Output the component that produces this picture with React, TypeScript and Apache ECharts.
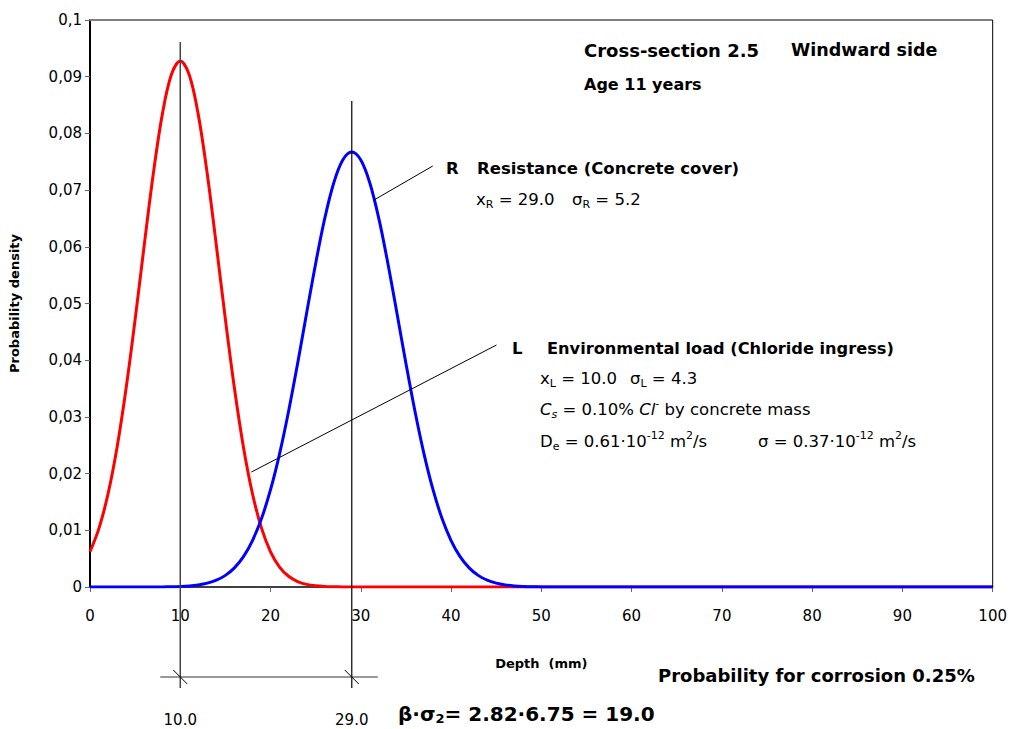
import React, { useEffect, useRef } from "react";
import * as echarts from "echarts";

// Depth (mm)
const depth = [
  0, 1, 2, 3, 4, 5, 6, 7, 8, 9, 10, 11, 12, 13, 14, 15, 16, 17, 18, 19, 20,
  21, 22, 23, 24, 25, 26, 27, 28, 29, 30, 31, 32, 33, 34, 35, 36, 37, 38, 39,
  40, 41, 42, 43, 44, 45, 46, 47, 48, 49, 50, 51, 52, 60, 70, 80, 90, 100,
];
// L – Environmental load (chloride ingress) density
const loadL = [
  0.00621, 0.01038, 0.01644, 0.02466, 0.03505, 0.04719, 0.06019, 0.07274,
  0.08327, 0.0903, 0.09278, 0.0903, 0.08327, 0.07274, 0.06019, 0.04719,
  0.03505, 0.02466, 0.01644, 0.01038, 0.00621, 0.00352, 0.00189, 0.00096,
  0.00046, 0.00021, 0.00009, 0.00004, 0.00001, 0, 0, 0, 0, 0, 0, 0, 0, 0, 0,
  0, 0, 0, 0, 0, 0, 0, 0, 0, 0, 0, 0, 0, 0, 0, 0, 0, 0, 0,
];
// R – Resistance (concrete cover) density
const resistR = [
  0, 0, 0, 0, 0, 0, 0, 0.00001, 0.00002, 0.00005, 0.0001, 0.00019, 0.00037,
  0.00068, 0.0012, 0.00205, 0.00337, 0.00535, 0.00819, 0.01207, 0.01716,
  0.02349, 0.031, 0.03943, 0.04832, 0.05707, 0.06496, 0.07125, 0.07531,
  0.07672, 0.07531, 0.07125, 0.06496, 0.05707, 0.04832, 0.03943, 0.031,
  0.02349, 0.01716, 0.01207, 0.00819, 0.00535, 0.00337, 0.00205, 0.0012,
  0.00068, 0.00037, 0.00019, 0.0001, 0.00005, 0.00002, 0.00001, 0, 0, 0, 0, 0,
  0,
];
const yTickLabels = ["0", "0,01", "0,02", "0,03", "0,04", "0,05", "0,06", "0,07", "0,08", "0,09", "0,1"];
const xTickLabels = ["0", "10", "20", "30", "40", "50", "60", "70", "80", "90", "100"];
const meanL = 10.0;
const meanR = 29.0;

const F = "'DejaVu Sans', Verdana, sans-serif";

export default function App() {
  const ref = useRef<HTMLDivElement>(null);
  useEffect(() => {
    if (!ref.current) return;
    const chart = echarts.init(ref.current, undefined, { renderer: "svg" });
    const option: any = {
      animation: false,
      backgroundColor: "#fff",
      grid: { left: 88, right: 16, top: 20, bottom: 142 },
      xAxis: {
        type: "value",
        min: 0,
        max: 100,
        interval: 10,
        name: "Depth  (mm)",
        nameLocation: "middle",
        nameGap: 70,
        nameTextStyle: { fontFamily: F, fontSize: 13, fontWeight: "bold", color: "#000" },
        axisLine: { show: true, lineStyle: { color: "#000", width: 1.5 } },
        axisTick: { show: true, inside: false, length: 5, lineStyle: { color: "#666" } },
        axisLabel: {
          margin: 21,
          fontFamily: F,
          fontSize: 15,
          color: "#000",
          formatter: (_v: number, i: number) => xTickLabels[i],
        },
        splitLine: { show: false },
      },
      yAxis: {
        type: "value",
        min: 0,
        max: 0.1,
        interval: 0.01,
        name: "Probability density",
        nameLocation: "middle",
        nameGap: 69,
        nameTextStyle: { fontFamily: F, fontSize: 13, fontWeight: "bold", color: "#000" },
        axisLine: { show: true, lineStyle: { color: "#000", width: 2 } },
        axisTick: { show: true, inside: false, length: 5, lineStyle: { color: "#666" } },
        axisLabel: {
          margin: 8,
          fontFamily: F,
          fontSize: 15,
          color: "#000",
          formatter: (_v: number, i: number) => yTickLabels[i],
        },
        splitLine: { show: false },
      },
      series: [
        {
          type: "line",
          name: "L",
          data: depth.map((d, i) => [d, loadL[i]]),
          symbol: "none",
          smooth: 0.35,
          lineStyle: { color: "#ff0000", width: 3 },
          z: 3,
        },
        {
          type: "line",
          name: "R",
          data: depth.map((d, i) => [d, resistR[i]]),
          symbol: "none",
          smooth: 0.35,
          lineStyle: { color: "#0000ff", width: 3 },
          z: 4,
        },
      ],
    };
    chart.setOption(option);

    const p = (x: number, y: number) => chart.convertToPixel({ gridIndex: 0 }, [x, y]) as number[];
    const [x0, y0] = p(0, 0);
    const [x100, yTop] = p(100, 0.1);
    const xl = p(meanL, 0)[0];
    const xr = p(meanR, 0)[0];
    const lTop = p(meanL, 0.0961)[1];
    const rTop = p(meanR, 0.0857)[1];
    const bottom = y0 + 101;
    const dimY = y0 + 90;
    const rs = p(31.46, 0.06825);
    const re = p(37.97, 0.07425);
    const ls = p(17.88, 0.02028);
    const le = p(45.03, 0.04268);

    const line = (a: number[], b: number[], stroke = "#000", lineWidth = 1) => ({
      type: "line",
      shape: { x1: a[0], y1: a[1], x2: b[0], y2: b[1] },
      style: { stroke, lineWidth },
      z: 10,
    });
    const R = 16.5;
    const rich = {
      n: { fontFamily: F, fontSize: R, lineHeight: 22, fill: "#000" },
      i: { fontFamily: F, fontSize: R, lineHeight: 22, fill: "#000", fontStyle: "italic" },
      sub: { fontFamily: F, fontSize: 11, lineHeight: 12, fill: "#000", verticalAlign: "bottom" },
      isub: { fontFamily: F, fontSize: 11, lineHeight: 12, fill: "#000", verticalAlign: "bottom", fontStyle: "italic" },
      sup: { fontFamily: F, fontSize: 11, lineHeight: 12, fill: "#000", verticalAlign: "top" },
      big: { fontFamily: F, fontSize: 20, lineHeight: 22, fill: "#000", fontWeight: "bold" },
      bsub: { fontFamily: F, fontSize: 13, lineHeight: 13, fill: "#000", fontWeight: "bold", verticalAlign: "bottom" },
    };
    const txt = (x: number, y: number, text: string) => ({
      type: "text",
      x,
      y,
      z: 11,
      style: { text, rich, align: "left", verticalAlign: "middle" },
    });
    const plain = (x: number, y: number, text: string, size: number, bold: boolean, align = "left") => ({
      type: "text",
      x,
      y,
      z: 11,
      style: {
        text,
        fontFamily: F,
        fontSize: size,
        fontWeight: bold ? "bold" : "normal",
        fill: "#000",
        align,
        verticalAlign: "middle",
      },
    });

    const graphic = [
      line([x0, yTop], [x100, yTop], "#808080", 2),
      line([x100, yTop], [x100, y0], "#000", 1),
      line([xl, lTop], [xl, bottom], "#444", 1.5),
      line([xr, rTop], [xr, bottom], "#000", 1.2),
      line([xl - 20, dimY], [xr + 26, dimY], "#333", 1.2),
      line([xl - 7, dimY - 7], [xl + 7, dimY + 7], "#000", 1),
      line([xr - 7, dimY - 7], [xr + 7, dimY + 7], "#000", 1),
      line(rs, re, "#000", 1),
      line(ls, le, "#000", 1),
      plain(xl, y0 + 133, "10.0", 15, false, "center"),
      plain(xr, y0 + 133, "29.0", 15, false, "center"),
      plain(584, 50, "Cross-section 2.5", 18, true),
      plain(791, 50, "Windward side", 17.5, true),
      plain(584, 84, "Age 11 years", 16, true),
      plain(446, 168, "R", 16.5, true),
      plain(477, 168, "Resistance (Concrete cover)", 16.5, true),
      txt(476, 199, "{n|x}{sub|R}{n| = 29.0}"),
      txt(572, 199, "{n|σ}{sub|R}{n| = 5.2}"),
      plain(512, 348, "L", 16.5, true),
      plain(547, 348, "Environmental load (Chloride ingress)", 16.2, true),
      txt(540, 378, "{n|x}{sub|L}{n| = 10.0}"),
      txt(630, 378, "{n|σ}{sub|L}{n| = 4.3}"),
      txt(540, 409, "{i|C}{isub|s}{n| = 0.10% }{i|Cl}{sup|-}{n| by concrete mass}"),
      txt(540, 441, "{n|D}{sub|e}{n| = 0.61·10}{sup|-12}{n| m}{sup|2}{n|/s}"),
      txt(758, 441, "{n|σ = 0.37·10}{sup|-12}{n| m}{sup|2}{n|/s}"),
      plain(658, 675, "Probability for corrosion 0.25%", 18, true),
      txt(398, 714, "{big|β·σ}{bsub|2}{big|= 2.82·6.75 = 19.0}"),
    ];
    chart.setOption({ graphic });
    return () => chart.dispose();
  }, []);
  return (
    <div
      ref={ref}
      style={{ position: "fixed", left: 0, top: 0, width: 1010, height: 729, background: "#fff" }}
    />
  );
}
